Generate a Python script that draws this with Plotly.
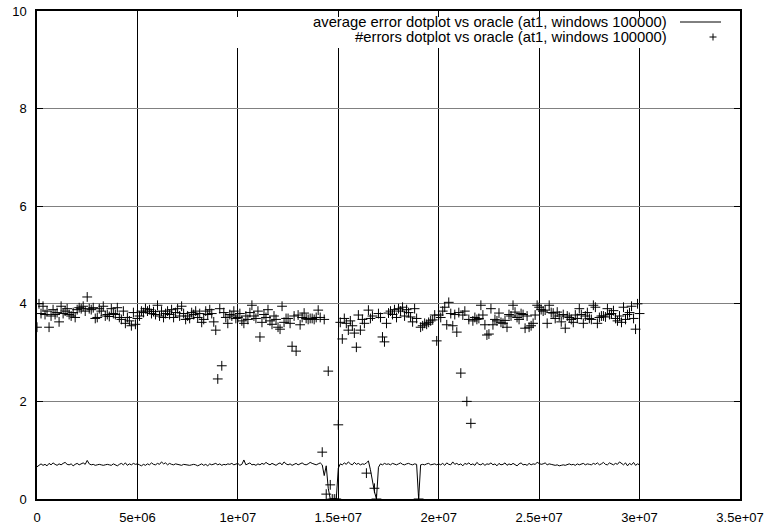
import plotly.graph_objects as go

WINDOW = 100000

# #errors dotplot vs oracle (one value per window of 100000)
errors = [
    # 0-24
    3.52, 4.0, 3.8, 3.95, 3.78, 3.85, 3.52, 3.75, 3.88, 3.78, 3.82, 3.63, 3.95, 3.8, 3.85, 3.9, 3.78, 3.75, 3.82, 3.72, 3.88, 3.92, 3.9, 3.95, 3.85,
    # 25-49
    4.14, 3.9, 3.88, 3.92, 3.7, 3.72, 3.9, 3.85, 3.95, 3.75, 3.78, 3.74, 3.9, 3.8, 3.78, 3.92, 3.72, 3.68, 3.85, 3.6, 3.72, 3.65, 3.55, 3.82, 3.58,
    # 50-74
    3.7, 3.75, 3.85, 3.82, 3.9, 3.85, 3.88, 3.8, 3.84, 3.78, 3.97, 3.75, 3.85, 3.72, 3.8, 3.85, 3.78, 3.88, 3.72, 3.82, 3.9, 3.75, 3.95, 3.8, 3.68,
    # 75-99
    3.75, 3.7, 3.82, 3.78, 3.85, 3.72, 3.8, 3.62, 3.68, 3.85, 3.78, 3.88, 3.8, 3.63, 3.46, 2.46, 3.9, 2.73, 3.82, 3.72, 3.6, 3.78, 3.75, 3.85, 3.7,
    # 100-124
    3.72, 3.8, 3.65, 3.6, 3.75, 3.68, 3.82, 3.97, 3.75, 3.7, 3.85, 3.32, 3.62, 3.78, 3.72, 3.88, 3.65, 3.58, 3.75, 3.68, 3.52, 3.48, 3.95, 3.62, 3.7,
    # 125-149
    3.7, 3.6, 3.13, 3.75, 3.03, 3.77, 3.57, 3.72, 3.81, 3.7, 3.68, 3.7, 3.7, 3.68, 3.72, 3.87, 3.72, 0.96, 3.68, 0.1, 2.62, 0.29, 0.0, 0.0, 0.0,
    # 150-174
    1.52, 3.62, 3.28, 3.7, 3.6, 3.46, 3.65, 3.55, 3.4, 3.11, 3.77, 3.46, 3.68, 3.6, 0.53, 3.87, 3.7, 3.75, 0.22, 0.0, 3.8, 3.72, 3.32, 3.22, 3.6,
    # 175-199
    3.81, 3.85, 3.78, 3.88, 3.72, 3.9, 3.85, 3.93, 3.75, 3.88, 3.82, 3.73, 3.63, 3.9, 3.7, 0.0, 3.52, 3.55, 3.6, 3.58, 3.62, 3.65, 3.67, 3.77, 3.24,
    # 200-224
    3.77, 3.72, 3.85, 3.93, 3.57, 4.03, 3.8, 3.55, 3.78, 3.42, 3.82, 2.58, 3.77, 3.85, 2.0, 3.68, 1.55, 3.65, 3.72, 3.68, 3.7, 3.97, 3.77, 3.57, 3.36,
    # 225-249
    3.38, 3.9, 3.57, 3.68, 3.65, 3.81, 3.62, 3.6, 3.66, 3.52, 3.78, 3.75, 3.97, 3.83, 3.72, 3.68, 3.8, 3.78, 3.5, 3.75, 3.52, 3.55, 3.6, 3.77, 3.97,
    # 250-274
    3.93, 3.88, 3.85, 3.87, 3.6, 3.97, 3.82, 3.81, 3.7, 3.83, 3.75, 3.63, 3.78, 3.5, 3.75, 3.72, 3.68, 3.62, 3.77, 3.7, 3.9, 3.78, 3.6, 3.75, 3.82,
    # 275-300
    3.7, 3.68, 3.97, 3.93, 3.6, 3.72, 3.75, 3.75, 3.73, 3.9, 3.78, 3.8, 3.86, 3.7, 3.65, 3.75, 3.62, 3.93, 3.68, 3.78, 3.82, 3.95, 3.7, 3.48, 4.0, 3.8,
]

# average error dotplot vs oracle
avg_error = [
    # 0-24
    0.66, 0.70, 0.72, 0.69, 0.71, 0.68, 0.73, 0.70, 0.74, 0.71, 0.69, 0.72, 0.70, 0.73, 0.75, 0.71, 0.70, 0.72, 0.68, 0.71, 0.73, 0.70, 0.72, 0.74, 0.71,
    # 25-49
    0.79, 0.72, 0.70, 0.71, 0.69, 0.70, 0.71, 0.70, 0.69, 0.70, 0.71, 0.70, 0.69, 0.72, 0.70, 0.68, 0.71, 0.73, 0.70, 0.74, 0.69, 0.72, 0.70, 0.73, 0.71,
    # 50-74
    0.72, 0.70, 0.68, 0.71, 0.69, 0.72, 0.70, 0.74, 0.71, 0.70, 0.73, 0.71, 0.76, 0.72, 0.74, 0.70, 0.73, 0.71, 0.70, 0.72, 0.71, 0.70, 0.69, 0.71, 0.70,
    # 75-99
    0.70, 0.69, 0.70, 0.71, 0.70, 0.68, 0.70, 0.72, 0.69, 0.71, 0.68, 0.72, 0.70, 0.71, 0.73, 0.70, 0.72, 0.69, 0.71, 0.70, 0.72, 0.71, 0.73, 0.70, 0.72,
    # 100-124
    0.73, 0.69, 0.71, 0.80, 0.70, 0.72, 0.74, 0.70, 0.71, 0.69, 0.72, 0.70, 0.73, 0.71, 0.75, 0.72, 0.70, 0.73, 0.71, 0.69, 0.72, 0.74, 0.70, 0.76, 0.72,
    # 125-149
    0.70, 0.72, 0.69, 0.71, 0.73, 0.70, 0.72, 0.74, 0.71, 0.70, 0.72, 0.75, 0.73, 0.71, 0.70, 0.72, 0.74, 0.70, 0.48, 0.68, 0.22, 0.0, 0.0, 0.0, 0.0,
    # 150-174
    0.63, 0.72, 0.70, 0.74, 0.71, 0.76, 0.72, 0.70, 0.75, 0.71, 0.73, 0.70, 0.72, 0.71, 0.74, 0.78, 0.60, 0.35, 0.15, 0.0, 0.65, 0.72, 0.70, 0.73, 0.71,
    # 175-199
    0.72, 0.70, 0.73, 0.71, 0.70, 0.72, 0.74, 0.71, 0.70, 0.72, 0.73, 0.71, 0.70, 0.72, 0.71, 0.0, 0.70, 0.71, 0.70, 0.72, 0.73, 0.70, 0.71, 0.72, 0.70,
    # 200-224
    0.72, 0.70, 0.73, 0.69, 0.74, 0.71, 0.70, 0.76, 0.71, 0.73, 0.70, 0.72, 0.68, 0.73, 0.71, 0.74, 0.70, 0.72, 0.69, 0.75, 0.71, 0.70, 0.73, 0.69, 0.72,
    # 225-249
    0.71, 0.74, 0.70, 0.72, 0.68, 0.73, 0.70, 0.71, 0.74, 0.69, 0.72, 0.70, 0.73, 0.71, 0.68, 0.72, 0.74, 0.70, 0.71, 0.69, 0.73, 0.70, 0.72, 0.71, 0.75,
    # 250-274
    0.73, 0.71, 0.72, 0.74, 0.70, 0.72, 0.71, 0.70, 0.69, 0.70, 0.68, 0.69, 0.70, 0.69, 0.70, 0.72, 0.70, 0.71, 0.69, 0.72, 0.70, 0.71, 0.73, 0.70, 0.72,
    # 275-300
    0.71, 0.70, 0.73, 0.71, 0.74, 0.70, 0.72, 0.75, 0.71, 0.70, 0.74, 0.72, 0.70, 0.73, 0.71, 0.76, 0.72, 0.70, 0.74, 0.68, 0.73, 0.70, 0.75, 0.69, 0.72, 0.70,
]

positions = [i * WINDOW for i in range(len(errors))]

x_tickvals = [0, 5e6, 1e7, 1.5e7, 2e7, 2.5e7, 3e7, 3.5e7]
x_ticktext = ["0", "5e+06", "1e+07", "1.5e+07", "2e+07", "2.5e+07", "3e+07", "3.5e+07"]
y_tickvals = [0, 2, 4, 6, 8, 10]
y_ticktext = ["0", "2", "4", "6", "8", "10"]

label_avg = "average error dotplot vs oracle (at1, windows 100000)"
label_err = "#errors dotplot vs oracle (at1, windows 100000)"

FONT = "Liberation Sans, Arial, Helvetica, sans-serif"

fig = go.Figure()
fig.add_trace(go.Scatter(
    x=positions, y=avg_error, mode="lines", name=label_avg,
    line=dict(color="black", width=1), showlegend=False,
))
fig.add_trace(go.Scatter(
    x=positions, y=errors, mode="markers", name=label_err,
    marker=dict(symbol="cross-thin", size=7, line=dict(color="black", width=1), color="black"),
    showlegend=False,
))

# Legend (gnuplot-style key at top right)
def px_x(p):
    return (p - 37) / 703.0

def px_y(p):
    return 1 - (p - 11) / 488.0

shapes = [
    dict(type="rect", xref="paper", yref="paper", x0=px_x(225), x1=px_x(738),
         y0=px_y(48), y1=px_y(17), fillcolor="white", line=dict(width=0), layer="above"),
    dict(type="line", xref="paper", yref="paper", x0=px_x(680), x1=px_x(721),
         y0=px_y(22), y1=px_y(22), line=dict(color="black", width=1), layer="above"),
    dict(type="line", xref="paper", yref="paper", x0=px_x(709.5), x1=px_x(716.5),
         y0=px_y(37), y1=px_y(37), line=dict(color="black", width=1), layer="above"),
    dict(type="line", xref="paper", yref="paper", x0=px_x(713), x1=px_x(713),
         y0=px_y(33.5), y1=px_y(40.5), line=dict(color="black", width=1), layer="above"),
]
annotations = [
    dict(xref="paper", yref="paper", x=px_x(669), y=px_y(22), text=label_avg,
         showarrow=False, xanchor="right", yanchor="middle",
         font=dict(family=FONT, size=14.8, color="black")),
    dict(xref="paper", yref="paper", x=px_x(669), y=px_y(37), text=label_err,
         showarrow=False, xanchor="right", yanchor="middle",
         font=dict(family=FONT, size=14.8, color="black")),
]

fig.update_layout(
    width=771, height=527,
    margin=dict(l=37, r=31, t=11, b=28, pad=0, autoexpand=False),
    paper_bgcolor="white", plot_bgcolor="white",
    font=dict(family=FONT, size=13, color="black"),
    shapes=shapes, annotations=annotations,
    showlegend=False,
)
fig.update_xaxes(
    range=[0, 3.5e7], tickvals=x_tickvals, ticktext=x_ticktext,
    showgrid=True, gridcolor="black", gridwidth=1,
    showline=True, linecolor="black", linewidth=1.5, mirror="allticks",
    ticks="inside", ticklen=6, tickcolor="black",
    zeroline=False, ticklabelstandoff=6, automargin=False,
    tickfont=dict(family=FONT, size=13, color="black"),
)
fig.update_yaxes(
    range=[0, 10], tickvals=y_tickvals, ticktext=y_ticktext,
    showgrid=True, gridcolor="#808080", gridwidth=1,
    showline=True, linecolor="black", linewidth=1.5, mirror="allticks",
    ticks="inside", ticklen=6, tickcolor="black",
    zeroline=False, ticklabelstandoff=6, automargin=False,
    tickfont=dict(family=FONT, size=13, color="black"),
)

fig.write_html(
    "out.html",
    config={"displayModeBar": False},
    post_script="document.body.style.margin='0';document.body.style.padding='0';",
)
